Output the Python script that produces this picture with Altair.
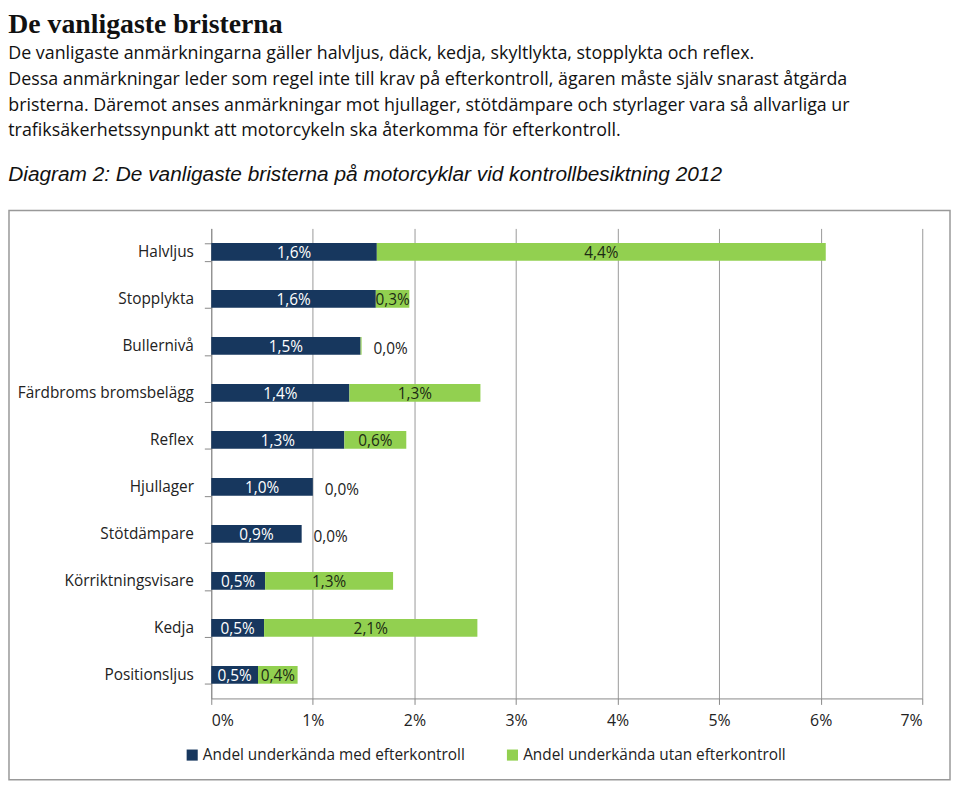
import altair as alt
import pandas as pd

categories = ["Halvljus", "Stopplykta", "Bullernivå", "Färdbroms bromsbelägg", "Reflex",
              "Hjullager", "Stötdämpare", "Körriktningsvisare", "Kedja", "Positionsljus"]
med_efterkontroll = [1.63, 1.62, 1.47, 1.36, 1.31, 1.00, 0.89, 0.53, 0.52, 0.46]
utan_efterkontroll = [4.42, 0.33, 0.01, 1.29, 0.61, 0.0, 0.0, 1.26, 2.10, 0.39]
label_med = ["1,6%", "1,6%", "1,5%", "1,4%", "1,3%", "1,0%", "0,9%", "0,5%", "0,5%", "0,5%"]
label_utan = ["4,4%", "0,3%", "0,0%", "1,3%", "0,6%", "0,0%", "0,0%", "1,3%", "2,1%", "0,4%"]
series = ["Andel underkända med efterkontroll", "Andel underkända utan efterkontroll"]
x_ticks = [0, 1, 2, 3, 4, 5, 6, 7]

title_text = "De vanligaste bristerna"
body_lines = [
    "De vanligaste anmärkningarna gäller halvljus, däck, kedja, skyltlykta, stopplykta och reflex.",
    "Dessa anmärkningar leder som regel inte till krav på efterkontroll, ägaren måste själv snarast åtgärda",
    "bristerna. Däremot anses anmärkningar mot hjullager, stötdämpare och styrlager vara så allvarliga ur",
    "trafiksäkerhetssynpunkt att motorcykeln ska återkomma för efterkontroll.",
]
caption = "Diagram 2: De vanligaste bristerna på motorcyklar vid kontrollbesiktning 2012"

NAVY = "#17375E"
GREEN = "#92D050"
FONT = "Open Sans"

rows = []
for i, c in enumerate(categories):
    rows.append({"cat": c, "serie": series[0], "start": 0.0, "end": med_efterkontroll[i],
                 "mid": med_efterkontroll[i] / 2, "label": label_med[i], "zero": False})
    s = med_efterkontroll[i]
    e = s + utan_efterkontroll[i]
    rows.append({"cat": c, "serie": series[1], "start": s, "end": e,
                 "mid": (s + e) / 2, "label": label_utan[i], "zero": utan_efterkontroll[i] < 0.05})
df = pd.DataFrame(rows)

W, H = 717, 474

x_scale = alt.Scale(domain=[0, 7], nice=False)
y_enc = alt.Y("cat:N", sort=categories, scale=alt.Scale(paddingInner=0.62),
              axis=alt.Axis(title=None, labelFont=FONT, labelFontSize=15.5, labelColor="#222",
                            labelPadding=11, tickBand="extent", tickColor="#888", tickSize=7,
                            domainColor="#888", labelLimit=300))

frame = alt.Chart(df).transform_filter(alt.datum.start == 0).transform_aggregate(
    n="count()"
).mark_rect(fill="white", fillOpacity=0, stroke="#999", strokeWidth=1.5).encode(
    x=alt.value(-204), x2=alt.value(W + 28), y=alt.value(-18), y2=alt.value(H + 82)
)

bars = alt.Chart(df).mark_bar(height=18, strokeWidth=0).encode(
    x=alt.X("start:Q", scale=x_scale,
            axis=alt.Axis(title=None, values=x_ticks, labelExpr="datum.value + '%'",
                          labelFont=FONT, labelFontSize=16, labelColor="#222", labelPadding=8,
                          grid=True, gridColor="#999", domainColor="#888", tickColor="#888",
                          tickSize=6)),
    x2="end:Q",
    y=y_enc,
    color=alt.Color("serie:N", scale=alt.Scale(domain=series, range=[NAVY, GREEN]),
                    legend=alt.Legend(title=None, orient="none", legendX=-27, legendY=H + 49,
                                      direction="horizontal",
                                      labelFont=FONT, labelFontSize=15.5, labelColor="#222",
                                      symbolType="square", symbolSize=125, symbolStrokeWidth=0,
                                      symbolOffset=0, labelOffset=3,
                                      columnPadding=40, labelLimit=400)),
)

text_med = alt.Chart(df).transform_filter(alt.datum.serie == series[0]).mark_text(
    font=FONT, fontSize=15.5, color="white", baseline="middle", align="center", dy=1
).encode(x=alt.X("mid:Q", scale=x_scale), y=alt.Y("cat:N", sort=categories), text="label:N")

text_utan = alt.Chart(df).transform_filter(
    (alt.datum.serie == series[1]) & (alt.datum.zero == False)
).mark_text(font=FONT, fontSize=15.5, color="#1c2a14", baseline="middle", align="center", dy=1
).encode(x=alt.X("mid:Q", scale=x_scale), y=alt.Y("cat:N", sort=categories), text="label:N")

text_zero = alt.Chart(df).transform_filter(
    (alt.datum.serie == series[1]) & (alt.datum.zero == True)
).mark_text(font=FONT, fontSize=15.5, color="#222", baseline="middle", align="left", dx=12, dy=3
).encode(x=alt.X("end:Q", scale=x_scale), y=alt.Y("cat:N", sort=categories), text="label:N")

main = alt.layer(frame, bars, text_med, text_utan, text_zero).properties(
    width=W, height=H,
    title=alt.TitleParams(caption, anchor="start", frame="bounds", font="Liberation Sans",
                          fontStyle="italic", fontWeight="normal", fontSize=21, color="#111",
                          offset=25),
)

chart = alt.vconcat(main).properties(
    title=alt.TitleParams(title_text, subtitle=body_lines, anchor="start", frame="bounds",
                          font="Liberation Serif", fontWeight="bold", fontSize=28, color="#111",
                          subtitleFont=FONT, subtitleFontSize=18, subtitleColor="#111",
                          subtitleLineHeight=26, subtitlePadding=6, offset=24),
    padding=0,
).configure_view(stroke=None).configure_concat(spacing=0)

chart.save("out.html", embed_options={"renderer": "svg", "actions": False})
